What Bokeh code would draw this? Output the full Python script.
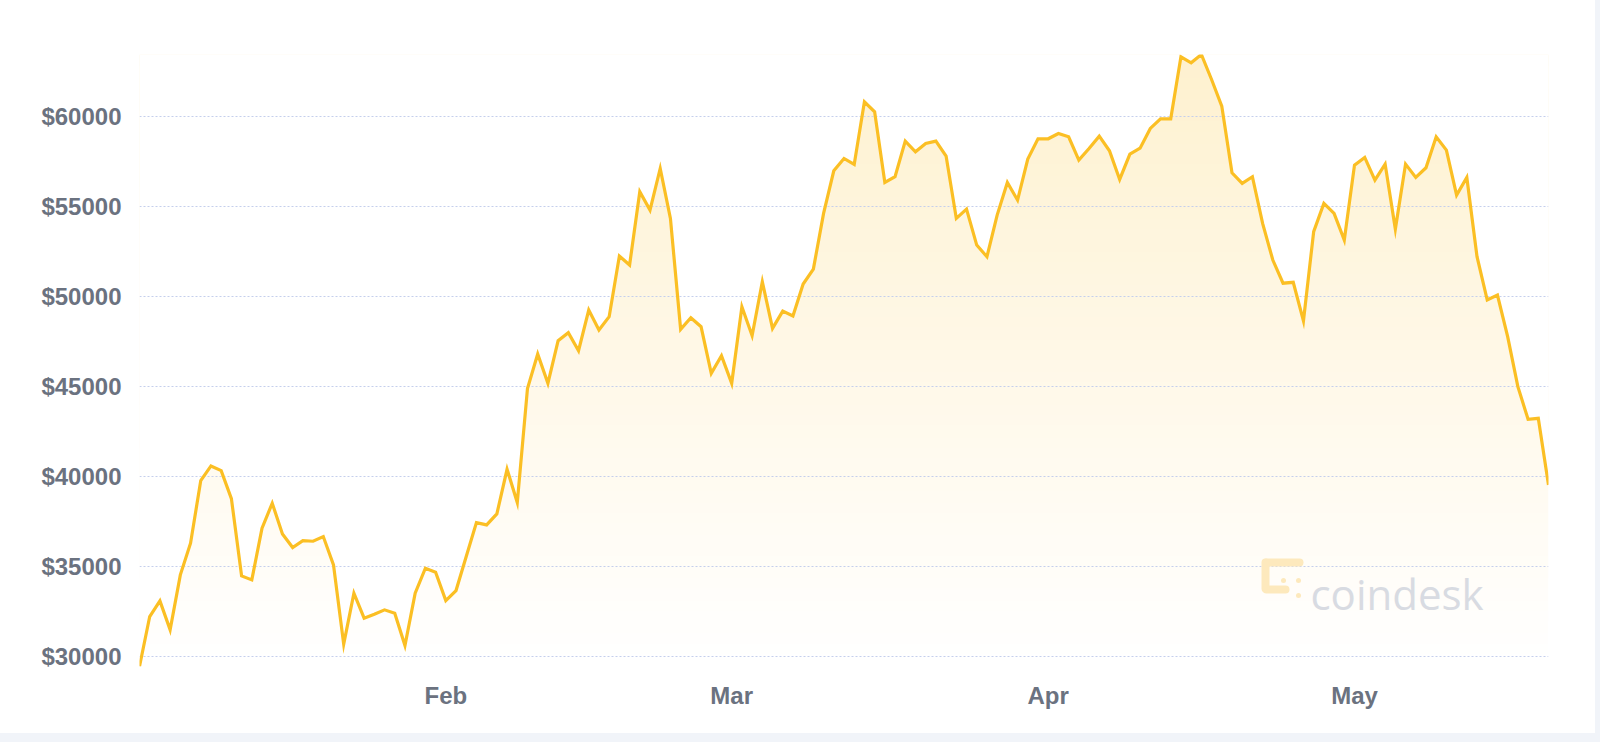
import numpy as np
from bokeh.plotting import figure
from bokeh.layouts import column
from bokeh.models import Range1d, FixedTicker, PrintfTickFormatter
from bokeh.core.properties import value
from bokeh.embed import file_html
from bokeh.resources import INLINE

# ---- data (daily closing price, USD) ----
start_date = "2021-01-01"
price = [
    29444, 32222, 33093, 31481, 34537, 36296, 39778, 40593, 40333, 38778,
    34481, 34259, 37130, 38519, 36815, 36056, 36444, 36407, 36667, 35093,
    30685, 33519, 32130, 32352, 32593, 32407, 30611, 33519, 34907, 34685,
    33111, 33667, 35556, 37444, 37315, 37926, 40407, 38556, 44900, 46815,
    45185, 47556, 48000, 47000, 49259, 48148, 48889, 52259, 51759, 55833,
    54815, 57130, 54352, 48185, 48833, 48333, 45741, 46722, 45185, 49444,
    47833, 50833, 48241, 49200, 48926, 50704, 51537, 54630, 57000, 57685,
    57352, 60833, 60278, 56352, 56667, 58648, 58056, 58519, 58648, 57815,
    54352, 54870, 52870, 52222, 54537, 56352, 55370, 57648, 58778, 58778,
    59074, 58889, 57593, 58241, 58926, 58111, 56519, 57926, 58259, 59352,
    59889, 59889, 63333, 63000, 63463, 62074, 60593, 56889, 56296, 56667,
    54074, 52037, 50750, 50800, 48650, 53611, 55185, 54630, 53148, 57315,
    57741, 56481, 57370, 53759, 57370, 56630, 57167, 58889, 58148, 55648,
    56630, 52222, 49815, 50093, 47778, 45000, 43185, 43241, 39537,
]
month_labels = ["Feb", "Mar", "Apr", "May"]
month_starts = ["2021-02-01", "2021-03-01", "2021-04-01", "2021-05-01"]
y_ticks = [30000, 35000, 40000, 45000, 50000, 55000, 60000]

# ---- derived ----
t0 = np.datetime64(start_date)
n = len(price)
x = np.arange(1, n + 1)  # close time of each day, in days since start
month_pos = [int((np.datetime64(m) - t0).astype(int)) for m in month_starts]
ymin, ymax = min(price), max(price)

LABEL_COLOR = "#6b7280"
LINE_COLOR = "#fbbf24"
GRID_COLOR = "#c5cfec"
PAGE_BG = "#f1f4f9"

W, H = 1595, 733
p = figure(
    width=W, height=H,
    output_backend="svg", toolbar_location=None,
    x_range=Range1d(x[0], x[-1]), y_range=Range1d(ymin, ymax),
    min_border_left=139, min_border_right=47,
    min_border_top=54, min_border_bottom=67,
)
p.outline_line_color = None
p.background_fill_color = "white"
p.border_fill_color = "white"

# x axis
p.xaxis.ticker = FixedTicker(ticks=month_pos)
p.xaxis.major_label_overrides = {pos: lab for pos, lab in zip(month_pos, month_labels)}
# y axis
p.yaxis.ticker = FixedTicker(ticks=y_ticks)
p.yaxis.formatter = PrintfTickFormatter(format="$%d")
for ax in (p.xaxis, p.yaxis):
    ax.axis_line_color = None
    ax.major_tick_line_color = None
    ax.minor_tick_line_color = None
    ax.major_label_text_font = "Liberation Sans"
    ax.major_label_text_font_style = "bold"
    ax.major_label_text_font_size = "24px"
    ax.major_label_text_color = LABEL_COLOR
p.xaxis.major_label_standoff = 9
p.yaxis.major_label_standoff = 12

p.xgrid.visible = False
p.ygrid.ticker = FixedTicker(ticks=y_ticks)
p.ygrid.grid_line_color = GRID_COLOR
p.ygrid.grid_line_dash = "2 2"
p.ygrid.grid_line_width = 1

# gradient fill under the curve: vertical gradient image, masked above the line
rows = 300
alpha = np.linspace(0.0, 0.22, rows)
img = np.empty((rows, 1), dtype=np.uint32)
view = img.view(dtype=np.uint8).reshape((rows, 1, 4))
view[:, 0, 0] = 251
view[:, 0, 1] = 191
view[:, 0, 2] = 36
view[:, 0, 3] = (alpha * 255).astype(np.uint8)
p.image_rgba(image=[img], x=x[0], y=ymin, dw=x[-1] - x[0], dh=ymax - ymin, level="image")
p.varea(x=x, y1=price, y2=ymax + (ymax - ymin), fill_color="white", level="image")

# price line
p.line(x, price, line_color=LINE_COLOR, line_width=3.2, line_join="miter")

# ---- coindesk watermark (decoration) ----
fx0, fw = 139.0, 1409.0
fy0, fh = 54.0, 612.0
def dx(px):
    return x[0] + (px - fx0) / fw * (x[-1] - x[0])
def dy(py):
    return ymax - (py - fy0) / fh * (ymax - ymin)

LOGO = "#fde9bd"
p.multi_line(
    xs=[[dx(1266), dx(1299)], [dx(1265), dx(1265)], [dx(1266), dx(1285)]],
    ys=[[dy(562), dy(562)], [dy(562), dy(588)], [dy(589), dy(589)]],
    line_color=LOGO, line_width=8, line_cap="round",
)
p.scatter(x=[dx(1283), dx(1298), dx(1298)], y=[dy(580), dy(580), dy(595)],
          size=5, color=LOGO, line_color=None)
p.text(x=[dx(1310)], y=[dy(593)], text=["coindesk"],
       text_font=value("Open Sans"), text_font_size="42px",
       text_color="#d8dbe2", text_baseline="alphabetic", text_align="left")

# light page background only along the bottom and right edges of the white card
bg = (f"linear-gradient(to right, rgba(0,0,0,0) {W}px, {PAGE_BG} {W}px), "
      f"linear-gradient(to bottom, #ffffff {H}px, {PAGE_BG} {H}px)")
layout = column(p, width=1600, height=742, styles={"background": bg})

open("out.html", "w").write(file_html(layout, INLINE))
